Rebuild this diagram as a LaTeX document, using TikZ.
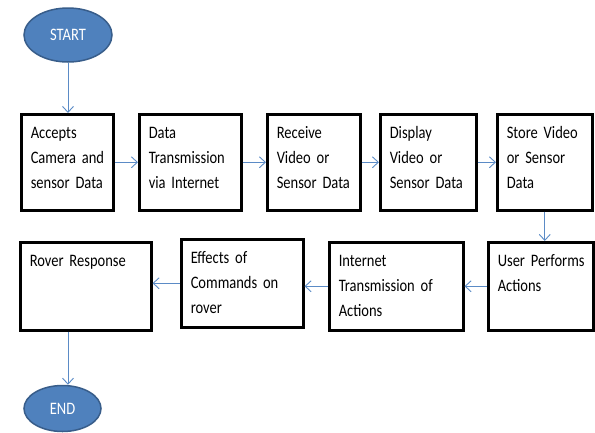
\documentclass[tikz,border=0pt]{standalone}
\usepackage{fontspec}
\setmainfont{Carlito}[FakeStretch=0.83]
\usetikzlibrary{shapes.geometric,arrows.meta}

\definecolor{fillblue}{HTML}{4F81BD}
\definecolor{edgeblue}{HTML}{385D8A}
\definecolor{arrowblue}{HTML}{5B8BC6}
\newcommand{\chartfont}{\fontsize{17.5}{25}\selectfont
    \fontdimen2\font=2.5pt \fontdimen3\font=0pt \fontdimen4\font=0pt\relax}

\begin{document}
\begin{tikzpicture}[x=1pt, y=-1pt, >={Straight Barb[length=6pt,width=11pt]},
    font=\chartfont,
    terminal/.style={ellipse, fill=fillblue, draw=edgeblue, line width=1.5pt,
        text=white, inner sep=0pt},
    box/.style={draw, line width=2.5pt, anchor=north west, align=left,
        inner xsep=9.5pt, inner ysep=0pt, text height=23.75pt,
        execute at begin node={\hyphenpenalty=10000}},
    toprow/.style={box, text depth=72.25pt},
    lowrow/.style={box, text depth=64.25pt},
    flow/.style={->, arrowblue, line width=0.9pt}]
    \useasboundingbox (0,0) rectangle (595,432);

    % 1. Start und Ende
    \node[terminal, minimum width=88pt, minimum height=54pt] (start) at (68,35) {START};
    \node[terminal, minimum width=77pt, minimum height=46pt] (stop) at (62.5,408.5) {END};

    % 2. obere Reihe (links nach rechts)
    \node[toprow, text width=73pt] (accept)   at (20,113)  {Accepts\\Camera~and\\sensor~Data};
    \node[toprow, text width=83pt] (transmit) at (138,113) {Data\\Transmission\\via Internet};
    \node[toprow, text width=74pt] (receive)  at (266,113) {Receive\\Video or\\Sensor~Data};
    \node[toprow, text width=77pt] (display)  at (379,113) {Display\\Video or\\Sensor~Data};
    \node[toprow, text width=76pt] (store)    at (496,113) {Store~Video\\or Sensor\\Data};

    % 3. untere Reihe (rechts nach links)
    \node[lowrow, text width=86pt]  (user)     at (487,241) {User~Performs\\Actions};
    \node[lowrow, text width=115pt] (internet) at (328,241) {Internet\\Transmission of\\Actions};
    \node[lowrow, text width=103pt] (effects)  at (180,238) {Effects of\\Commands on\\rover};
    \node[lowrow, text width=112pt] (rover)    at (19,241)  {Rover Response};

    % 4. Pfeile
    \draw[flow] (start.south) -- (start.south |- accept.north);
    \draw[flow] (accept.east) -- (accept.east -| transmit.west);
    \draw[flow] (transmit.east) -- (transmit.east -| receive.west);
    \draw[flow] (receive.east) -- (receive.east -| display.west);
    \draw[flow] (display.east) -- (display.east -| store.west);
    \draw[flow] (store.south) -- (store.south |- user.north);
    \draw[flow] (user.west) -- (user.west -| internet.east);
    \draw[flow] (internet.west) -- (internet.west -| effects.east);
    \draw[flow] (effects.west) -- (effects.west -| rover.east);
    \draw[flow] (rover.south -| start.south) -- (stop.north -| start.south);
\end{tikzpicture}
\end{document}
